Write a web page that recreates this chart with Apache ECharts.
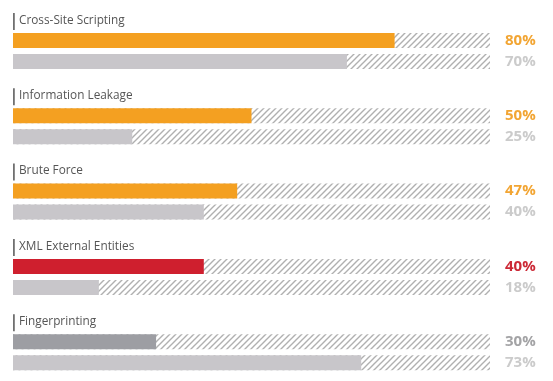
<!DOCTYPE html>
<html><head><meta charset="utf-8">
<script src="https://cdn.jsdelivr.net/npm/echarts@6/dist/echarts.min.js"></script>
<style>html,body{margin:0;padding:0;background:#fff}#c{width:553px;height:381px}</style>
</head><body><div id="c"></div>
<script>
const categories = ['Cross-Site Scripting','Information Leakage','Brute Force','XML External Entities','Fingerprinting'];
const primaryValues = [80, 50, 47, 40, 30];
const secondaryValues = [70, 25, 40, 18, 73];
const primaryColors = ['#f4a021','#f4a021','#f4a021','#cf1f2e','#9d9ea3'];
const primaryLabelColors = ['#f2a533','#f2a533','#f2a533','#cc2936','#a3a3a5'];
const secondaryColor = '#c8c6ca';
const secondaryLabelColor = '#cbcbcb';

// hatch pattern
const pc = document.createElement('canvas');
pc.width = 6; pc.height = 6;
const g = pc.getContext('2d');
g.fillStyle = '#fff'; g.fillRect(0,0,6,6);
g.strokeStyle = '#b0b0b0'; g.lineWidth = 1.4;
g.beginPath();
g.moveTo(0,6); g.lineTo(6,0);
g.moveTo(-3,3); g.lineTo(3,-3);
g.moveTo(3,9); g.lineTo(9,3);
g.stroke();

const chart = echarts.init(document.getElementById('c'), null, {renderer:'canvas'});
const step = 75.3;
const grids = [], xAxes = [], yAxes = [], series = [], graphics = [];
categories.forEach((name, i) => {
  const top = 30 + step * i;
  grids.push({left: 13, width: 477, top: top, height: 42});
  xAxes.push({gridIndex: i, type: 'value', min: 0, max: 100, show: false});
  yAxes.push({gridIndex: i, type: 'category', data: ['p','s'], inverse: true, show: false});
  series.push({
    type: 'bar', xAxisIndex: i, yAxisIndex: i, barWidth: 15, barGap: '-100%',
    silent: true, animation: false,
    itemStyle: {color: {image: pc, repeat: 'repeat'}},
    label: {
      show: true, position: 'right', distance: 15,
      fontFamily: 'Open Sans', fontWeight: 'bold', fontSize: 15,
      formatter: p => p.dataIndex === 0 ? primaryValues[i] + '%' : secondaryValues[i] + '%'
    },
    data: [
      {value: 100, label: {color: primaryLabelColors[i]}},
      {value: 100, label: {color: secondaryLabelColor}}
    ]
  });
  series.push({
    type: 'bar', xAxisIndex: i, yAxisIndex: i, barWidth: 15, barGap: '-100%',
    animation: false,
    data: [
      {value: primaryValues[i], itemStyle: {color: primaryColors[i]}},
      {value: secondaryValues[i], itemStyle: {color: secondaryColor}}
    ]
  });
  graphics.push({
    type: 'rect', left: 13, top: top - 17, shape: {width: 1.8, height: 17},
    style: {fill: '#707070'}
  });
  graphics.push({
    type: 'text', left: 19, top: top - 15.5,
    style: {text: name, fill: '#555', font: '11.8px "Open Sans"'}
  });
});

chart.setOption({
  animation: false,
  grid: grids, xAxis: xAxes, yAxis: yAxes, series: series, graphic: graphics
});
</script></body></html>
